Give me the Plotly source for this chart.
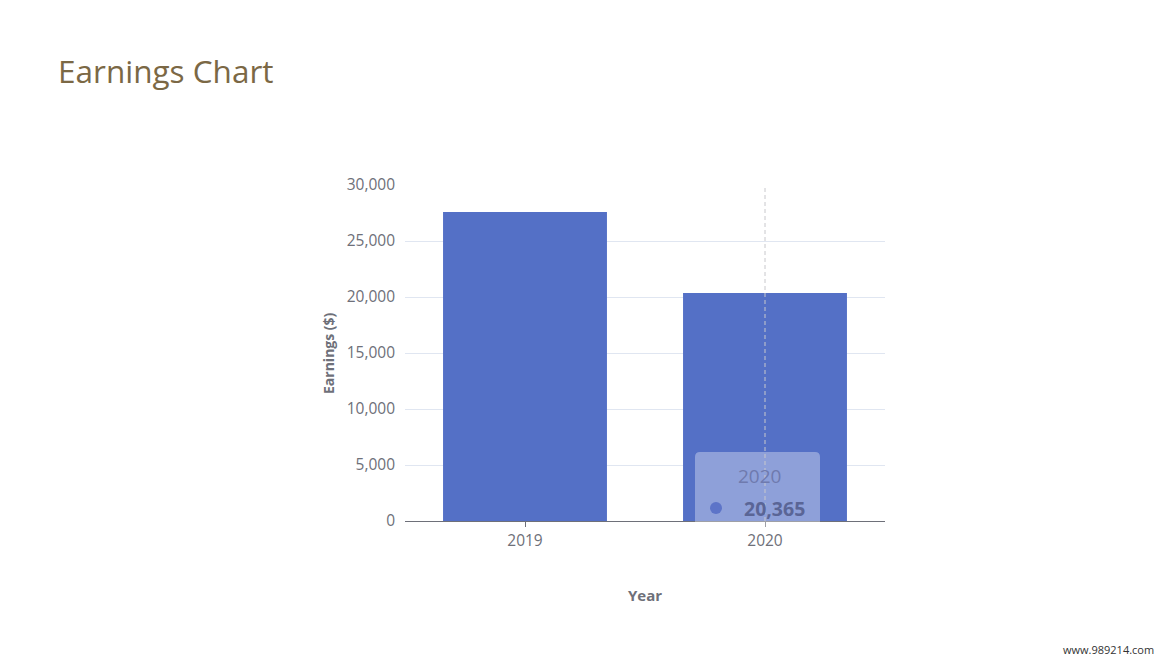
import plotly.graph_objects as go

# data
years = ["2019", "2020"]
earnings = [27600, 20365]
y_ticks = [0, 5000, 10000, 15000, 20000, 25000, 30000]

hover_idx = 1  # tooltip shown for 2020

bar_color = "#5470c6"
axis_grey = "#6e7079"
font = "Open Sans, Noto Sans, sans-serif"

# the page body adds an 8px margin, so the figure is a bit smaller
PAGE_OFF = 8
PLOT_L, PLOT_R, PLOT_T, PLOT_B = 405, 885, 185, 521
PW, PH = PLOT_R - PLOT_L, PLOT_B - PLOT_T


def px_x(x):
    return (x - PLOT_L) / PW


def px_y(y):
    return (PLOT_B - y) / PH


fig = go.Figure()
fig.add_trace(go.Bar(x=years, y=earnings, marker=dict(color=bar_color, line=dict(width=0)),
                     hoverinfo="skip"))

fig.update_layout(
    width=1170 - PAGE_OFF, height=658 - PAGE_OFF,
    margin=dict(l=PLOT_L - PAGE_OFF, r=1170 - PLOT_R, t=PLOT_T - PAGE_OFF, b=658 - PLOT_B),
    paper_bgcolor="white", plot_bgcolor="white",
    showlegend=False,
    bargap=0.317,
    font=dict(family=font, size=15, color=axis_grey),
)

fig.update_xaxes(
    type="category",
    showline=True, linecolor=axis_grey, linewidth=1,
    ticks="outside", ticklen=5, tickcolor=axis_grey,
    showgrid=False, ticklabelstandoff=0,
    tickfont=dict(size=15.5, color=axis_grey),
)
fig.update_yaxes(
    range=[0, max(y_ticks)], tickvals=y_ticks, tickformat=",",
    showgrid=True, gridcolor="#e0e6f1", gridwidth=1,
    zeroline=False, showline=False, ticks="",
    ticklabelstandoff=9,
    tickfont=dict(size=15.5, color=axis_grey),
)

# title
fig.add_annotation(text="Earnings Chart", xref="paper", yref="paper",
                   x=px_x(56), y=px_y(70),
                   xanchor="left", yanchor="middle", showarrow=False,
                   font=dict(family=font, size=31.5, color="#7b6845"))

# axis titles
fig.add_annotation(text="<b>Earnings ($)</b>", xref="paper", yref="paper",
                   x=px_x(328), y=0.5, textangle=-90,
                   xanchor="center", yanchor="middle", showarrow=False,
                   font=dict(family=font, size=14, color=axis_grey))
fig.add_annotation(text="<b>Year</b>", xref="paper", yref="paper",
                   x=0.5, y=px_y(595),
                   xanchor="center", yanchor="middle", showarrow=False,
                   font=dict(family=font, size=15, color=axis_grey))

# tooltip box (rounded rect, translucent white)
x0, x1 = px_x(695), px_x(820)
y0, y1 = px_y(532), px_y(452)
rx, ry = 5 / PW, 5 / PH
path = (f"M {x0 + rx},{y0} L {x1 - rx},{y0} Q {x1},{y0} {x1},{y0 + ry} "
        f"L {x1},{y1 - ry} Q {x1},{y1} {x1 - rx},{y1} L {x0 + rx},{y1} "
        f"Q {x0},{y1} {x0},{y1 - ry} L {x0},{y0 + ry} Q {x0},{y0} {x0 + rx},{y0} Z")
fig.add_shape(type="path", path=path, xref="paper", yref="paper",
              fillcolor="rgba(255,255,255,0.34)", line=dict(width=0), layer="above")

# dashed pointer line
fig.add_shape(type="line", xref="x", yref="paper", x0=hover_idx, x1=hover_idx, y0=0, y1=1,
              line=dict(color="#c8c8cc", width=1, dash="4px,3px"), layer="above")

fig.add_annotation(text=years[hover_idx], xref="paper", yref="paper",
                   x=px_x(759), y=px_y(476),
                   xanchor="center", yanchor="middle", showarrow=False,
                   font=dict(family=font, size=19, color="#6f7aae"))
fig.add_annotation(text="<b>{:,}</b>".format(earnings[hover_idx]), xref="paper", yref="paper",
                   x=px_x(807), y=px_y(508),
                   xanchor="right", yanchor="middle", showarrow=False,
                   font=dict(family=font, size=19.5, color="#5a6596"))
fig.add_shape(type="circle", xref="paper", yref="paper",
              x0=px_x(710), x1=px_x(722), y0=px_y(514), y1=px_y(502),
              fillcolor="#5d74c8", line=dict(width=0), layer="above")

# watermark
fig.add_annotation(text="www.989214.com", xref="paper", yref="paper",
                   x=px_x(1156), y=px_y(649),
                   xanchor="right", yanchor="middle", showarrow=False,
                   font=dict(family=font, size=11, color="#333333"))

fig.write_html("out.html")
